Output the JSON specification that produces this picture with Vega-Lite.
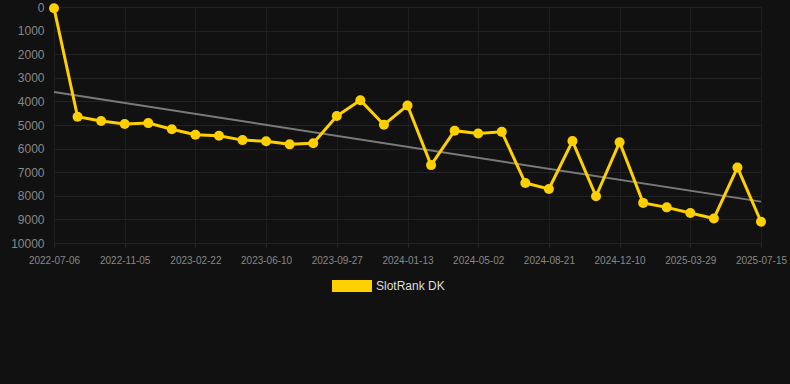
{
  "$schema": "https://vega.github.io/schema/vega-lite/v6.json",
  "width": 707,
  "height": 236,
  "autosize": {"type": "none"},
  "padding": {"left": 54, "top": 7, "right": 29, "bottom": 141},
  "background": "#111111",
  "config": {
    "view": {"stroke": null},
    "font": "Liberation Sans"
  },
  "datasets": {
    "d": [
      {"idx": 0, "date": "2022-07-06", "rank": 50},
      {"idx": 1, "date": "2022-08-16", "rank": 4650},
      {"idx": 2, "date": "2022-09-25", "rank": 4830},
      {"idx": 3, "date": "2022-11-05", "rank": 4960},
      {"idx": 4, "date": "2022-12-11", "rank": 4920},
      {"idx": 5, "date": "2023-01-16", "rank": 5180},
      {"idx": 6, "date": "2023-02-22", "rank": 5410},
      {"idx": 7, "date": "2023-03-30", "rank": 5455},
      {"idx": 8, "date": "2023-05-05", "rank": 5640},
      {"idx": 9, "date": "2023-06-10", "rank": 5690},
      {"idx": 10, "date": "2023-07-16", "rank": 5820},
      {"idx": 11, "date": "2023-08-21", "rank": 5775},
      {"idx": 12, "date": "2023-09-27", "rank": 4620},
      {"idx": 13, "date": "2023-11-02", "rank": 3950},
      {"idx": 14, "date": "2023-12-08", "rank": 4990},
      {"idx": 15, "date": "2024-01-13", "rank": 4170},
      {"idx": 16, "date": "2024-02-19", "rank": 6700},
      {"idx": 17, "date": "2024-03-26", "rank": 5240},
      {"idx": 18, "date": "2024-05-02", "rank": 5360},
      {"idx": 19, "date": "2024-06-08", "rank": 5290},
      {"idx": 20, "date": "2024-07-15", "rank": 7460},
      {"idx": 21, "date": "2024-08-21", "rank": 7710},
      {"idx": 22, "date": "2024-09-27", "rank": 5680},
      {"idx": 23, "date": "2024-11-03", "rank": 8020},
      {"idx": 24, "date": "2024-12-10", "rank": 5730},
      {"idx": 25, "date": "2025-01-15", "rank": 8300},
      {"idx": 26, "date": "2025-02-20", "rank": 8490},
      {"idx": 27, "date": "2025-03-29", "rank": 8730},
      {"idx": 28, "date": "2025-05-04", "rank": 8960},
      {"idx": 29, "date": "2025-06-09", "rank": 6800},
      {"idx": 30, "date": "2025-07-15", "rank": 9100}
    ]
  },
  "data": {"name": "d"},
  "layer": [
    {
      "transform": [{"regression": "rank", "on": "idx"}],
      "mark": {"type": "line", "color": "#7a7a7a", "strokeWidth": 2},
      "encoding": {
        "x": {"field": "idx", "type": "quantitative", "scale": {"domain": [0, 30], "nice": false, "zero": false}, "axis": null},
        "y": {
          "field": "rank",
          "type": "quantitative",
          "scale": {"domain": [0, 10000], "reverse": true, "nice": false},
          "axis": {
            "title": null,
            "values": [0, 1000, 2000, 3000, 4000, 5000, 6000, 7000, 8000, 9000, 10000],
            "format": "d",
            "labelColor": "#888888",
            "labelFontSize": 12,
            "labelPadding": 10,
            "domain": false,
            "ticks": false,
            "grid": true,
            "gridColor": "#222222",
            "gridWidth": 1
          }
        }
      }
    },
    {
      "layer": [
        {
          "mark": {"type": "line", "color": "#FFD000", "strokeWidth": 3},
          "encoding": {}
        },
        {
          "mark": {"type": "point", "filled": true, "opacity": 1, "size": 100},
          "encoding": {
            "color": {
              "datum": "SlotRank DK",
              "type": "nominal",
              "scale": {"range": ["#FFD000"]},
              "legend": {
                "title": null,
                "orient": "none",
                "legendX": 278,
                "legendY": 259,
                "symbolType": "M-1,-0.3H1V0.3H-1Z",
                "symbolSize": 1600,
                "symbolStrokeWidth": 0,
                "symbolFillColor": "#FFD000",
                "labelColor": "#dddddd",
                "labelFontSize": 12,
                "labelFont": "Liberation Sans"
              }
            }
          }
        }
      ],
      "encoding": {
        "x": {
          "field": "date",
          "type": "ordinal",
          "sort": null,
          "scale": {"type": "point", "padding": 0},
          "axis": {
            "title": null,
            "values": ["2022-07-06", "2022-11-05", "2023-02-22", "2023-06-10", "2023-09-27", "2024-01-13", "2024-05-02", "2024-08-21", "2024-12-10", "2025-03-29", "2025-07-15"],
            "labelAngle": 0,
            "labelColor": "#888888",
            "labelFontSize": 10,
            "labelPadding": 8,
            "domain": false,
            "ticks": true,
            "tickColor": "#2a2a2a",
            "tickSize": 4,
            "grid": true,
            "gridColor": "#1e1e1e",
            "gridWidth": 1
          }
        },
        "y": {
          "field": "rank",
          "type": "quantitative",
          "axis": {
            "title": null,
            "values": [0, 1000, 2000, 3000, 4000, 5000, 6000, 7000, 8000, 9000, 10000],
            "format": "d",
            "labelColor": "#888888",
            "labelFontSize": 12,
            "labelPadding": 10,
            "domain": false,
            "ticks": false,
            "grid": true,
            "gridColor": "#222222",
            "gridWidth": 1
          }
        }
      }
    }
  ],
  "resolve": {"scale": {"x": "independent", "y": "shared"}}
}
